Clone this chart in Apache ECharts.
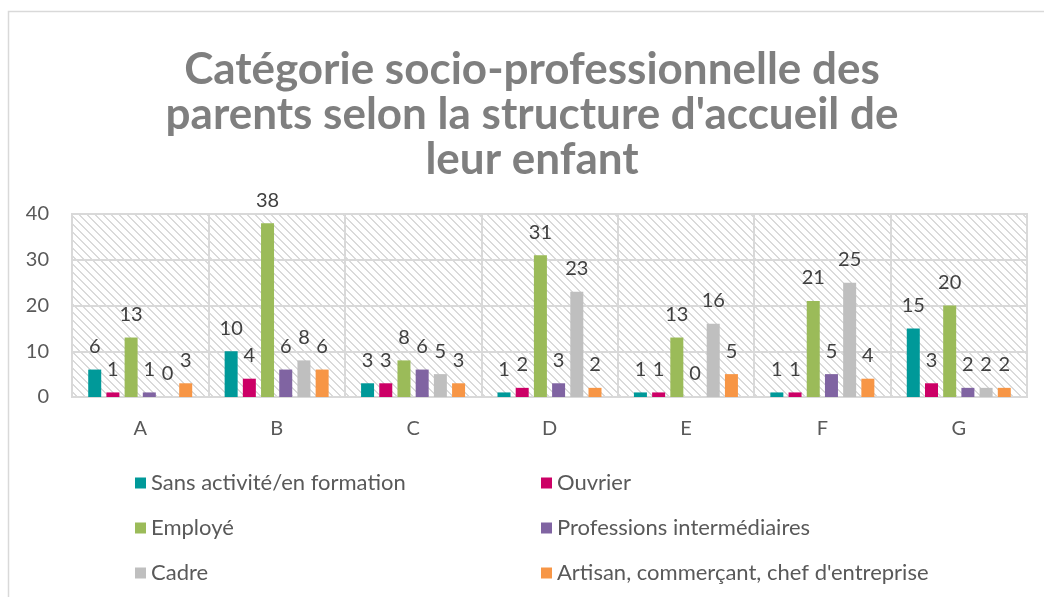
<!DOCTYPE html>
<html>
<head>
<meta charset="utf-8">
<script src="https://cdn.jsdelivr.net/npm/echarts@6/dist/echarts.min.js"></script>
<style>
  html, body { margin: 0; padding: 0; background: #ffffff; }
  #chart { width: 1044px; height: 597px; }
</style>
</head>
<body>
<div id="chart"></div>
<script>
// Structures d'accueil
const categories = ['A', 'B', 'C', 'D', 'E', 'F', 'G'];

// Effectifs par catégorie socio-professionnelle
const sansActivite = [6, 10, 3, 1, 1, 1, 15];
const ouvrier = [1, 4, 3, 2, 1, 1, 3];
const employe = [13, 38, 8, 31, 13, 21, 20];
const professionsInter = [1, 6, 6, 3, 0, 5, 2];
const cadre = [0, 8, 5, 23, 16, 25, 2];
const artisan = [3, 6, 3, 2, 5, 4, 2];

const yTicks = [0, 10, 20, 30, 40];

const seriesDefs = [
  { name: 'Sans activité/en formation', data: sansActivite, color: '#009999' },
  { name: 'Ouvrier', data: ouvrier, color: '#CC0066' },
  { name: 'Employé', data: employe, color: '#9BBB59' },
  { name: 'Professions intermédiaires', data: professionsInter, color: '#8064A2' },
  { name: 'Cadre', data: cadre, color: '#BFBFBF' },
  { name: 'Artisan, commerçant, chef d\'entreprise', data: artisan, color: '#F79646' }
];

// Diagonal hatch used as the plot background
function makeHatch() {
  const c = document.createElement('canvas');
  c.width = 8; c.height = 8;
  const ctx = c.getContext('2d');
  ctx.fillStyle = '#ffffff';
  ctx.fillRect(0, 0, 8, 8);
  ctx.fillStyle = '#dadada';
  for (let i = 0; i < 8; i++) {
    ctx.fillRect(i, i, 1, 1);
    ctx.fillRect((i + 1) % 8, i, 1, 1);
  }
  return c;
}

const FONT = 'Lato, "Open Sans", sans-serif';

const legendText = { fontFamily: FONT, fontSize: 22, lineHeight: 22, color: '#595959' };

const chart = echarts.init(document.getElementById('chart'), null, { renderer: 'canvas' });

chart.setOption({
  animation: false,
  textStyle: { fontFamily: FONT },
  title: {
    text: 'Catégorie socio-professionnelle des\nparents selon la structure d\'accueil de\nleur enfant',
    left: 532,
    top: 47,
    padding: 0,
    textAlign: 'center',
    textStyle: {
      fontFamily: FONT,
      fontWeight: 'bold',
      fontSize: 44,
      lineHeight: 45,
      color: '#7f7f7f'
    }
  },
  graphic: [{
    type: 'rect',
    silent: true,
    shape: { x: 8.5, y: 11.5, width: 1100, height: 700 },
    style: { fill: null, stroke: '#d9d9d9', lineWidth: 1.5 }
  }],
  legend: [
    {
      orient: 'vertical',
      left: 135,
      top: 472,
      padding: 0,
      itemWidth: 11,
      itemHeight: 11,
      itemGap: 23,
      icon: 'rect',
      data: [seriesDefs[0].name, seriesDefs[2].name, seriesDefs[4].name],
      textStyle: legendText
    },
    {
      orient: 'vertical',
      left: 541,
      top: 472,
      padding: 0,
      itemWidth: 11,
      itemHeight: 11,
      itemGap: 23,
      icon: 'rect',
      data: [seriesDefs[1].name, seriesDefs[3].name, seriesDefs[5].name],
      textStyle: legendText
    }
  ],
  grid: {
    show: true,
    left: 72,
    right: 17,
    top: 214,
    bottom: 200,
    backgroundColor: { image: makeHatch(), repeat: 'repeat' },
    borderColor: '#d9d9d9',
    borderWidth: 2
  },
  xAxis: {
    type: 'category',
    data: categories,
    axisLine: { lineStyle: { color: '#d9d9d9', width: 2 } },
    axisTick: { show: false },
    axisLabel: { fontFamily: FONT, fontSize: 20, color: '#595959', margin: 22 },
    splitLine: { show: true, lineStyle: { color: '#d9d9d9', width: 2 } }
  },
  yAxis: {
    type: 'value',
    min: yTicks[0],
    max: yTicks[yTicks.length - 1],
    interval: yTicks[1] - yTicks[0],
    axisLine: { show: false },
    axisTick: { show: false },
    axisLabel: { fontFamily: FONT, fontSize: 20, color: '#595959', margin: 23 },
    splitLine: { lineStyle: { color: '#d9d9d9', width: 2 } }
  },
  series: seriesDefs.map(s => ({
    name: s.name,
    type: 'bar',
    data: s.data,
    barWidth: 13,
    barGap: '40%',
    itemStyle: { color: s.color },
    label: {
      show: true,
      position: 'top',
      distance: 13,
      fontFamily: FONT,
      fontSize: 20,
      color: '#404040'
    }
  }))
});
</script>
</body>
</html>
